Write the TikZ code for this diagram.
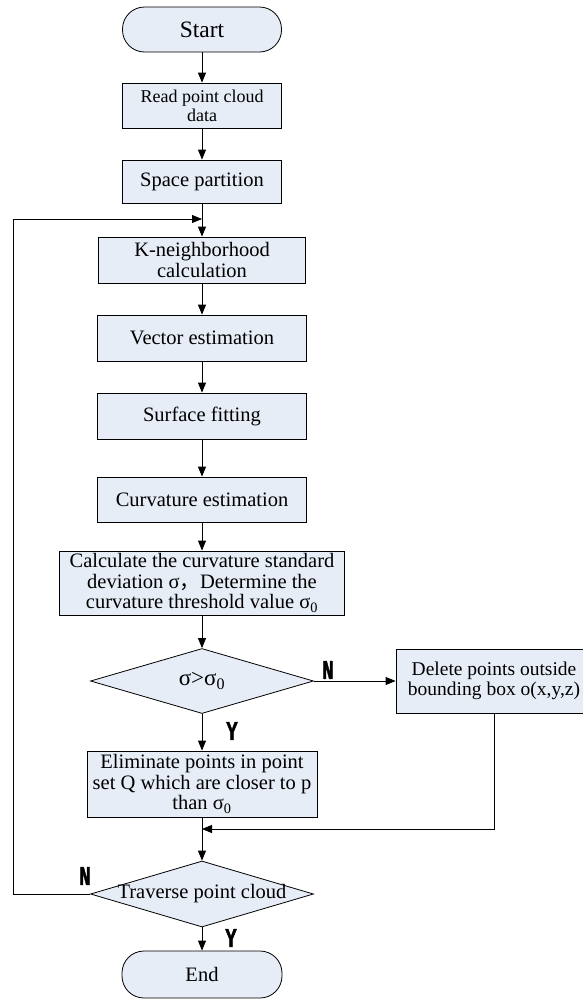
\documentclass[tikz,border=0pt]{standalone}
\usepackage{fontspec}
\setmainfont{Liberation Serif}
\newfontfamily\cjk{Noto Sans CJK SC}
\newfontfamily\ynfont{Liberation Mono}[FakeStretch=0.7,FakeBold=1.5]
\usetikzlibrary{arrows.meta,shapes.geometric}
\definecolor{boxfill}{RGB}{231,237,247}
\begin{document}
\begin{tikzpicture}[x=1pt,y=-1pt,>={Triangle[length=10pt,width=8pt]},line width=0.8pt,
	box/.style={draw,fill=boxfill,inner sep=1pt,align=center,font=\fontsize{20.5}{20.5}\selectfont},
	term/.style={box,rounded corners=22pt,minimum width=159pt,minimum height=45pt},
	dec/.style={draw,fill=boxfill,diamond,inner sep=0pt,minimum width=223pt,minimum height=65pt},
	yn/.style={font=\ynfont\bfseries\fontsize{27}{27}\selectfont}]
	\useasboundingbox (0,0) rectangle (582,999);
	\node[term,font=\fontsize{23.5}{23.5}\selectfont] (start) at (202,29.5) {Start};
	\node[box,minimum width=159pt,minimum height=45pt,font=\fontsize{18}{19}\selectfont] (read) at (202,105.5) {Read point cloud\\data};
	\node[box,minimum width=159pt,minimum height=43pt] (space) at (202,181.5) {Space partition};
	\node[box,minimum width=207pt,minimum height=46pt] (kn) at (202,260) {K-neighborhood\\calculation};
	\node[box,minimum width=209pt,minimum height=46pt] (vec) at (202,338) {Vector estimation};
	\node[box,minimum width=209pt,minimum height=46pt] (surf) at (202,416) {Surface fitting};
	\node[box,minimum width=209pt,minimum height=45pt] (curv) at (202,499.5) {Curvature estimation};
	\node[box,minimum width=285pt,minimum height=64pt] (calc) at (202,583) {Calculate the curvature standard\\deviation σ{\cjk ，}Determine the\\curvature threshold value σ\textsubscript{0}};
	\node[dec,label={[font=\fontsize{23}{23}\selectfont]center:σ>σ\textsubscript{0}}] (d1) at (202,681) {};
	\node[box,minimum width=196pt,minimum height=64pt,font=\fontsize{19.5}{20.5}\selectfont] (del) at (494,681) {Delete points outside\\bounding box o(x,y,z)};
	\node[box,minimum width=230pt,minimum height=66pt] (elim) at (202,784) {Eliminate points in point\\set Q which are closer to p\\than σ\textsubscript{0}};
	\node[dec,minimum height=66pt,label={[font=\fontsize{20.5}{20.5}\selectfont]center:Traverse point cloud}] (trav) at (202,894) {};
	\node[term,minimum width=160pt,minimum height=47pt] (end) at (202,974.5) {End};
	\coordinate (loopin) at (202,219);
	\coordinate (loopx) at (13,0);
	\coordinate (join) at (202,829);
	\foreach \a/\b in {start/read,read/space,space/kn,kn/vec,vec/surf,surf/curv,curv/calc,calc/d1,d1/elim,elim/trav,trav/end}
		\draw[->] (\a) -- (\b);
	\draw[->] (d1) -- (del);
	\draw[->] (del.south) -- (del.south |- join) -- (join);
	\draw[->] (trav.west) -- (trav.west -| loopx) |- (loopin);
	\node[yn] (n1) at (328,670) {N};
	\node[yn] (y1) at (232,731) {Y};
	\node[yn] (n2) at (85,876) {N};
	\node[yn] (y2) at (231,938) {Y};
\end{tikzpicture}
\end{document}
